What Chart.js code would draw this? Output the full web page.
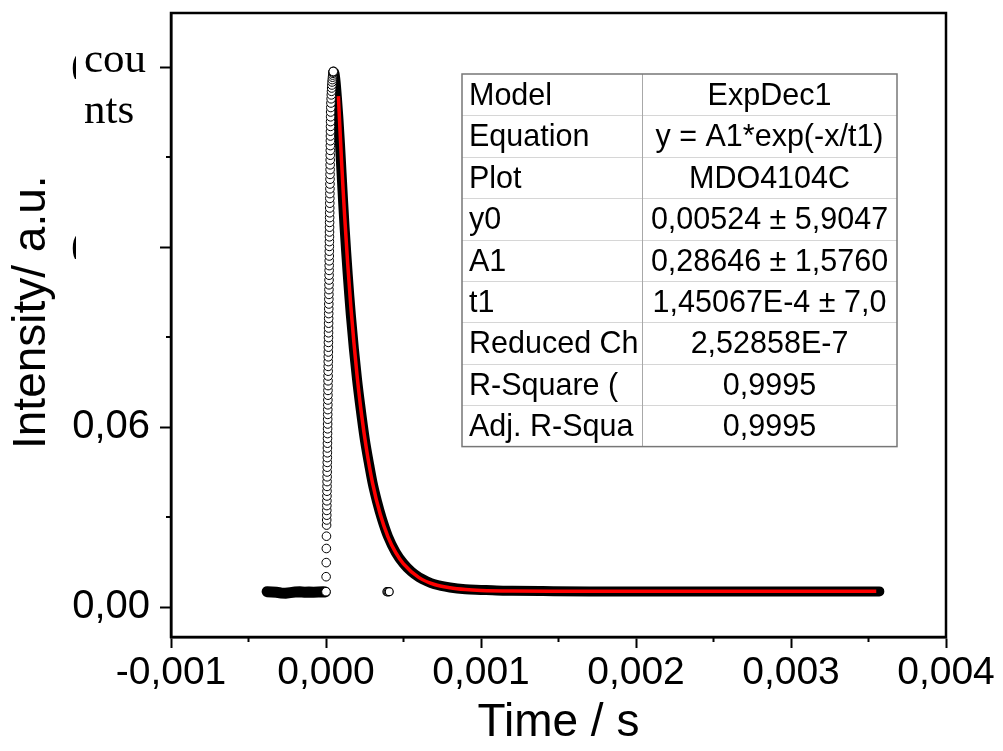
<!DOCTYPE html>
<html>
<head>
<meta charset="utf-8">
<script src="https://cdn.jsdelivr.net/npm/chart.js@4.4.1/dist/chart.umd.min.js"></script>
<style>
  html, body { margin: 0; padding: 0; background: #fff; }
  #wrap { width: 1003px; height: 751px; }
</style>
</head>
<body>
<div id="wrap"><canvas id="chart" width="1003" height="751"></canvas></div>
<script>
// pre-trigger samples (dense, overlapping)
const preX = [-0.00038, -0.00035, -0.00032, -0.00029, -0.00026, -0.00023, -0.0002, -0.00017, -0.00014, -0.00011, -0.00008, -0.00005, -0.00002, -0.000005];
const preY = [0.0051, 0.0050, 0.0049, 0.0047, 0.0046, 0.0048, 0.0050, 0.0051, 0.0049, 0.0050, 0.0049, 0.0050, 0.0051, 0.0050];

// rising edge, open circles (time in microseconds)
const riseXus = [0, 0.8, 1.5, 2.2, 3.0, 3.8,
  4.6, 4.9, 5.2, 5.5, 5.8, 6.1, 6.4, 6.7, 7.0, 7.3,
  7.6, 7.9, 8.2, 8.5, 8.8, 9.1, 9.4, 9.7, 10.0, 10.3,
  10.6, 10.9, 11.2, 11.5, 11.8, 12.1, 12.4, 12.7, 13.0, 13.3,
  13.6, 13.9, 14.2, 14.5, 14.8, 15.1, 15.4, 15.7, 16.0, 16.3,
  16.6, 16.9, 17.2, 17.5, 17.8, 18.1, 18.4, 18.7, 19.0, 19.3,
  19.6, 19.9, 20.2, 20.5, 20.8, 21.1, 21.4, 21.7, 22.0, 22.3,
  22.6, 22.9, 23.2, 23.5, 23.8, 24.1, 24.4, 24.7, 25.0, 25.3,
  25.6, 25.9, 26.2, 26.5, 26.8, 27.1, 27.4, 27.7, 28.0, 28.3,
  28.6, 28.9, 29.2, 29.5, 29.8, 30.1, 31.0, 32.0, 33.1, 34.3,
  35.5, 36.7, 38.0, 39.3, 40.6, 41.9, 43.2, 44.4, 45.5, 47.0];
const riseY = [0.0051, 0.0101, 0.0148, 0.0195, 0.0236, 0.0273,
  0.0290, 0.0306, 0.0322, 0.0338, 0.0354, 0.0370, 0.0386, 0.0402, 0.0418, 0.0434,
  0.0450, 0.0466, 0.0482, 0.0498, 0.0514, 0.0530, 0.0546, 0.0562, 0.0578, 0.0594,
  0.0610, 0.0626, 0.0642, 0.0658, 0.0674, 0.0690, 0.0706, 0.0722, 0.0738, 0.0754,
  0.0770, 0.0786, 0.0802, 0.0818, 0.0834, 0.0850, 0.0866, 0.0882, 0.0898, 0.0914,
  0.0930, 0.0946, 0.0962, 0.0978, 0.0994, 0.1010, 0.1026, 0.1042, 0.1058, 0.1074,
  0.1090, 0.1106, 0.1122, 0.1138, 0.1154, 0.1170, 0.1186, 0.1202, 0.1218, 0.1234,
  0.1250, 0.1266, 0.1282, 0.1298, 0.1314, 0.1330, 0.1346, 0.1362, 0.1378, 0.1394,
  0.1410, 0.1426, 0.1442, 0.1458, 0.1474, 0.1490, 0.1506, 0.1522, 0.1538, 0.1554,
  0.1570, 0.1586, 0.1602, 0.1618, 0.1634, 0.1650, 0.1665, 0.1680, 0.1694, 0.1707,
  0.1719, 0.1730, 0.1740, 0.1750, 0.1758, 0.1766, 0.1773, 0.1779, 0.1783, 0.1785];

// decay part of the measurement
const decayX = [0.000048, 0.000055, 0.000062, 0.00007, 0.00008, 0.00009, 0.0001, 0.00011, 0.00012, 0.00013,
  0.00014, 0.00015, 0.00016, 0.00018, 0.0002, 0.00022, 0.00025, 0.00028, 0.0003, 0.00033,
  0.00036, 0.0004, 0.00045, 0.0005, 0.00055, 0.0006, 0.00065, 0.0007, 0.0008, 0.0009,
  0.001, 0.0011, 0.0012, 0.0014, 0.0017, 0.002, 0.0025, 0.003, 0.00357];
const decayY = [0.1785, 0.1778, 0.1750, 0.1700, 0.1630, 0.1545, 0.1450, 0.1355, 0.1265, 0.1185,
  0.1110, 0.1040, 0.0975, 0.0860, 0.0760, 0.0675, 0.0560, 0.0470, 0.0415, 0.0350,
  0.0295, 0.0235, 0.0182, 0.0145, 0.0118, 0.0099, 0.0086, 0.0076, 0.0065, 0.0059,
  0.0057, 0.0055, 0.0054, 0.0053, 0.0052, 0.0052, 0.0052, 0.0052, 0.0052];

// stray samples near 0.4 ms
const strayX = [0.000393, 0.0004, 0.000408];
const strayY = [0.0051, 0.0050, 0.0051];

// ExpDec1 fit curve
const fitX = [0.00008, 0.00009, 0.0001, 0.00011, 0.00012, 0.00014, 0.00016, 0.00018, 0.0002, 0.00023,
  0.00026, 0.0003, 0.00035, 0.0004, 0.00045, 0.0005, 0.0006, 0.0007, 0.0008, 0.0009,
  0.001, 0.0012, 0.0015, 0.002, 0.0025, 0.003, 0.00355];
const fitY = [0.1703, 0.1593, 0.1490, 0.1394, 0.1305, 0.1144, 0.1003, 0.0881, 0.0774, 0.0639,
  0.0530, 0.0414, 0.0309, 0.0234, 0.0181, 0.0144, 0.0098, 0.0075, 0.0064, 0.0058,
  0.0055, 0.0053, 0.00525, 0.00524, 0.00524, 0.00524, 0.00524];

const xTicks = [-0.001, 0, 0.001, 0.002, 0.003, 0.004];
const xMinor = [-0.0005, 0.0005, 0.0015, 0.0025, 0.0035];
const yTicks = [0, 0.06, 0.12, 0.18];
const yMinor = [0.03, 0.09, 0.15];
const yHiddenLabels = [0.12, 0.18];

const tableLabels = ['Model', 'Equation', 'Plot', 'y0', 'A1', 't1', 'Reduced Ch', 'R-Square (', 'Adj. R-Squa'];
const tableValues = ['ExpDec1', 'y = A1*exp(-x/t1)', 'MDO4104C', '0,00524 ± 5,9047', '0,28646 ± 1,5760',
  '1,45067E-4 ± 7,0', '2,52858E-7', '0,9995', '0,9995'];

const FONT = '"Liberation Sans", Arial, sans-serif';
const SERIF = '"Liberation Serif", "Times New Roman", serif';

const toXY = (xs, ys) => xs.map((x, i) => ({ x: x, y: ys[i] }));
const comma = (v, d) => v.toFixed(d).replace('.', ',');

const extras = {
  id: 'extras',
  afterDraw(chart) {
    const ctx = chart.ctx;
    const ca = chart.chartArea;
    const sx = chart.scales.x, sy = chart.scales.y;
    ctx.save();

    // minor ticks
    ctx.strokeStyle = '#000';
    ctx.lineWidth = 2;
    xMinor.forEach(v => {
      const px = sx.getPixelForValue(v);
      ctx.beginPath(); ctx.moveTo(px, ca.bottom); ctx.lineTo(px, ca.bottom + 5); ctx.stroke();
    });
    yMinor.forEach(v => {
      const py = sy.getPixelForValue(v);
      ctx.beginPath(); ctx.moveTo(ca.left, py); ctx.lineTo(ca.left - 5, py); ctx.stroke();
    });

    // frame
    ctx.lineWidth = 2.5;
    ctx.strokeRect(ca.left, ca.top, ca.right - ca.left, ca.bottom - ca.top);

    // leftover label fragments on the y axis
    ctx.fillStyle = '#000';
    ctx.font = '40px ' + SERIF;
    ctx.textBaseline = 'middle';
    ctx.textAlign = 'left';
    yHiddenLabels.forEach(v => {
      const py = sy.getPixelForValue(v);
      ctx.save();
      ctx.beginPath();
      ctx.rect(60, py - 12, 16, 24);
      ctx.clip();
      ctx.fillText('(', 71, py);
      ctx.restore();
    });
    ctx.font = '43px ' + SERIF;
    ctx.textBaseline = 'alphabetic';
    ctx.fillText('cou', 84, 72);
    ctx.fillText('nts', 84, 123);

    // fit table
    const tl = ca.left + 291, tt = ca.top + 61;
    const c1 = 180, tw = 435, rh = 41.4;
    const th = rh * tableLabels.length;
    ctx.fillStyle = '#fff';
    ctx.fillRect(tl, tt, tw, th);
    ctx.strokeStyle = '#d6d6d6';
    ctx.lineWidth = 1;
    for (let i = 1; i < tableLabels.length; i++) {
      const y = Math.round(tt + i * rh) + 0.5;
      ctx.beginPath(); ctx.moveTo(tl, y); ctx.lineTo(tl + tw, y); ctx.stroke();
    }
    ctx.strokeStyle = '#a8a8a8';
    ctx.beginPath(); ctx.moveTo(tl + c1 + 0.5, tt); ctx.lineTo(tl + c1 + 0.5, tt + th); ctx.stroke();
    ctx.strokeStyle = '#777';
    ctx.lineWidth = 1.5;
    ctx.strokeRect(tl, tt, tw, th);

    ctx.font = '30.5px ' + FONT;
    ctx.fillStyle = '#000';
    tableLabels.forEach((lab, i) => {
      const top = tt + i * rh;
      ctx.save();
      ctx.beginPath(); ctx.rect(tl + 2, top, c1 - 3, rh); ctx.clip();
      ctx.textAlign = 'left';
      ctx.fillText(lab, tl + 7, top + 31);
      ctx.restore();
      ctx.save();
      ctx.beginPath(); ctx.rect(tl + c1 + 2, top, tw - c1 - 3, rh); ctx.clip();
      ctx.textAlign = 'center';
      ctx.fillText(tableValues[i], tl + c1 + (tw - c1) / 2, top + 31);
      ctx.restore();
    });

    ctx.restore();
  }
};

new Chart(document.getElementById('chart').getContext('2d'), {
  type: 'scatter',
  data: {
    datasets: [
      {
        label: 'fit',
        data: toXY(fitX, fitY),
        showLine: true,
        borderColor: '#ff0000',
        borderWidth: 3.5,
        pointRadius: 0,
        cubicInterpolationMode: 'monotone',
        order: 0
      },
      {
        label: 'rise',
        data: riseXus.map((us, i) => ({ x: us * 1e-6, y: riseY[i] })),
        pointRadius: 4.3,
        pointBorderWidth: 1,
        pointBorderColor: '#000',
        pointBackgroundColor: '#fff',
        order: 1
      },
      {
        label: 'stray',
        data: toXY(strayX, strayY),
        pointRadius: 4,
        pointBorderWidth: 1.2,
        pointBorderColor: '#000',
        pointBackgroundColor: '#fff',
        order: 2
      },
      {
        label: 'decay',
        data: toXY(decayX, decayY),
        showLine: true,
        borderColor: '#000',
        borderWidth: 10,
        borderCapStyle: 'round',
        pointRadius: 0,
        cubicInterpolationMode: 'monotone',
        order: 3
      },
      {
        label: 'pre',
        data: toXY(preX, preY),
        showLine: true,
        borderColor: '#000',
        borderWidth: 11,
        borderCapStyle: 'round',
        pointRadius: 0,
        order: 4
      }
    ]
  },
  options: {
    responsive: false,
    animation: false,
    layout: { padding: { left: 0, right: 57, top: 13, bottom: 0 } },
    plugins: {
      legend: { display: false },
      tooltip: { enabled: false }
    },
    scales: {
      x: {
        type: 'linear',
        min: -0.001,
        max: 0.004,
        afterBuildTicks: s => { s.ticks = xTicks.map(v => ({ value: v })); },
        afterFit: s => { s.height = 114; s.paddingLeft = 0; s.paddingRight = 0; },
        ticks: {
          color: '#000',
          font: { family: FONT, size: 39 },
          padding: 2,
          maxRotation: 0,
          autoSkip: false,
          callback: v => comma(v, 3)
        },
        grid: { display: true, drawOnChartArea: false, tickLength: 11, tickWidth: 2, tickColor: '#000' },
        border: { display: true, color: '#000', width: 2.5 },
        title: {
          display: true,
          text: 'Time / s',
          color: '#000',
          font: { family: FONT, size: 46 },
          padding: { top: 0, bottom: 0 }
        }
      },
      y: {
        type: 'linear',
        min: -0.01,
        max: 0.198,
        afterBuildTicks: s => { s.ticks = yTicks.map(v => ({ value: v })); },
        afterFit: s => { s.width = 171; s.paddingTop = 0; s.paddingBottom = 0; },
        ticks: {
          color: '#000',
          font: { family: FONT, size: 40 },
          padding: 10,
          callback: v => (yHiddenLabels.includes(v) ? '' : comma(v, 2))
        },
        grid: { display: true, drawOnChartArea: false, tickLength: 11, tickWidth: 2, tickColor: '#000' },
        border: { display: true, color: '#000', width: 2.5 },
        title: {
          display: true,
          text: '  Intensity/ a.u.',
          color: '#000',
          font: { family: FONT, size: 46 },
          padding: { top: 5, bottom: 0 }
        }
      }
    }
  },
  plugins: [extras]
});
</script>
</body>
</html>
